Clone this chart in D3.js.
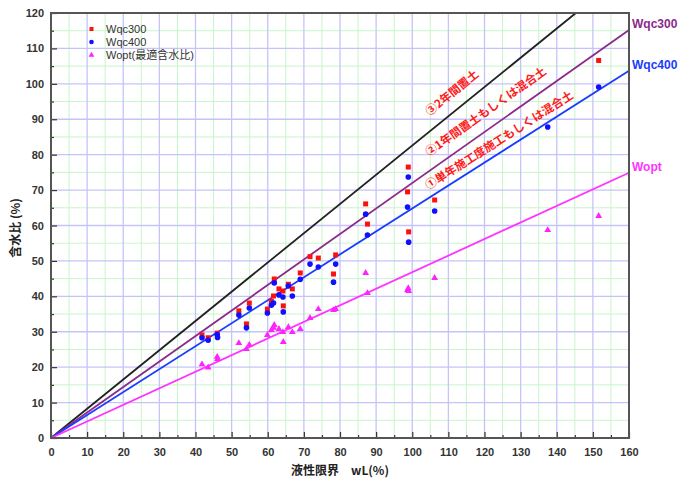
<!DOCTYPE html>
<html>
<head>
<meta charset="utf-8">
<script src="https://cdn.jsdelivr.net/npm/d3@7"></script>
<style>
  body { margin: 0; background: #fff; }
  svg { display: block; }
</style>
</head>
<body>
<script>
// sample data
const wL     = [41.8, 43.5, 46.0, 46.1, 52.0, 54.1, 54.9, 59.9, 61.0, 61.6, 61.8, 63.1, 64.2, 64.3, 65.7, 66.8, 69.0, 71.7, 74.0, 78.2, 78.8, 87.1, 87.6, 98.7, 98.9, 99.0, 106.2, 137.5, 151.6];
const wqc300 = [29.1, 28.3, 29.6, 28.8, 35.9, 32.2, 38.1, 36.4, 38.6, 40.1, 44.9, 42.1, 41.5, 37.3, 43.4, 42.1, 46.6, 51.2, 50.8, 46.3, 51.7, 66.1, 60.4, 69.5, 76.5, 58.2, 67.2, null, 106.6];
const wqc400 = [28.3, 27.6, 29.2, 28.4, 34.7, 31.1, 36.7, 35.3, 37.5, 38.1, 43.8, 40.4, 39.8, 35.6, 42.9, 40.1, 44.8, 49.1, 48.3, 44.0, 49.1, 63.2, 57.3, 65.2, 73.7, 55.3, 64.1, 87.8, 99.1];
const wopt   = [20.8, 19.9, 22.9, 22.3, 26.8, 25.1, 26.3, 29.1, 30.5, 31.1, 31.9, 30.8, 29.9, 27.1, 31.3, 29.9, 30.8, 33.9, 36.4, 36.1, 36.4, 46.6, 40.9, 41.8, 42.3, 41.5, 45.2, 58.7, 62.7];

// reference lines, value at wL = 160
const lineNames = ["Wqc300", "Wqc400", "Wopt"];
const lineEnd   = [115.2, 103.7, 74.9];
// black line (2 years) ends on top edge
const blackEnd = [145.3, 120];

const legendNames = ["Wqc300", "Wqc400", "Wopt(最適含水比)"];
const notes = ["③2年間置土", "②1年間置土もしくは混合土", "①単年施工度施工もしくは混合土"];

const xTicks = d3.range(0, 161, 10);
const yTicks = d3.range(0, 121, 10);

const app = {
  init: () => {
    app.svg = d3.select("body").append("svg")
      .attr("width", 686)
      .attr("height", 479);
    app.x = d3.scaleLinear().domain([0, 160]).range([51, 629]);
    app.y = d3.scaleLinear().domain([0, 120]).range([438, 13]);
    app.grid();
    app.lines();
    app.points();
    app.axes();
    app.labels();
  },

  grid: () => {
    const { svg, x, y } = app;
    const g = svg.append("g");
    // minor = green, major = lavender
    g.selectAll(".vmin").data(d3.range(5, 160, 10)).enter().append("line")
      .attr("x1", d => x(d)).attr("x2", d => x(d))
      .attr("y1", y(0)).attr("y2", y(120))
      .style("stroke", "#c8f5c8").style("stroke-width", 1);
    g.selectAll(".hmin").data(d3.range(5, 120, 10)).enter().append("line")
      .attr("y1", d => y(d)).attr("y2", d => y(d))
      .attr("x1", x(0)).attr("x2", x(160))
      .style("stroke", "#c8f5c8").style("stroke-width", 1);
    g.selectAll(".vmaj").data(d3.range(10, 160, 10)).enter().append("line")
      .attr("x1", d => x(d)).attr("x2", d => x(d))
      .attr("y1", y(0)).attr("y2", y(120))
      .style("stroke", "#c4c4fa").style("stroke-width", 1.3);
    g.selectAll(".hmaj").data(d3.range(10, 120, 10)).enter().append("line")
      .attr("y1", d => y(d)).attr("y2", d => y(d))
      .attr("x1", x(0)).attr("x2", x(160))
      .style("stroke", "#c4c4fa").style("stroke-width", 1.3);
  },

  lines: () => {
    const { svg, x, y } = app;
    const line = d3.line().x(d => x(d[0])).y(d => y(d[1]));
    const colors = ["#8b2a8b", "#1a3cff", "#ff33ff"];

    svg.append("path")
      .attr("d", line([[0, 0], blackEnd]))
      .style("fill", "none").style("stroke", "#222").style("stroke-width", 1.8);

    lineEnd.forEach((v, i) => {
      svg.append("path")
        .attr("d", line([[0, 0], [160, v]]))
        .style("fill", "none").style("stroke", colors[i]).style("stroke-width", 1.8);
      svg.append("text")
        .attr("x", x(160) + 3)
        .attr("y", y(v) - 2)
        .text(lineNames[i])
        .style("font-family", "'Liberation Sans', Arial, sans-serif")
        .style("font-size", "12px")
        .style("font-weight", "bold")
        .style("fill", colors[i]);
    });

    // rotated notes along each line
    const slopes = [blackEnd[1] / blackEnd[0], lineEnd[0] / 160, lineEnd[1] / 160];
    const at = [113.8, 122.9, 125.7];
    const off = [16, 16, 11];
    notes.forEach((t, i) => {
      const dx = x(1) - x(0);
      const dy = y(slopes[i]) - y(0);
      const th = Math.atan2(dy, dx);
      const px = x(at[i]) + off[i] * Math.sin(th);
      const py = y(slopes[i] * at[i]) - off[i] * Math.cos(th);
      svg.append("text")
        .attr("transform", `translate(${px},${py}) rotate(${th * 180 / Math.PI})`)
        .attr("text-anchor", "middle")
        .attr("dy", "0.35em")
        .text(t)
        .style("font-family", "'Noto Sans CJK JP', sans-serif")
        .style("font-size", "11.5px")
        .style("font-weight", "bold")
        .style("fill", "#ff1a1a");
    });
  },

  points: () => {
    const { svg, x, y } = app;
    const idx = d3.range(wL.length);

    svg.selectAll(".tri").data(idx).enter().append("path")
      .attr("d", d3.symbol().type(d3.symbolTriangle).size(20))
      .attr("transform", i => `translate(${x(wL[i])},${y(wopt[i])})`)
      .style("fill", "#ff22ff");

    svg.selectAll(".sq").data(idx.filter(i => wqc300[i] != null)).enter().append("rect")
      .attr("x", i => x(wL[i]) - 2.5)
      .attr("y", i => y(wqc300[i]) - 2.5)
      .attr("width", 5)
      .attr("height", 5)
      .style("fill", "#ff1010");

    svg.selectAll(".dot").data(idx).enter().append("circle")
      .attr("cx", i => x(wL[i]))
      .attr("cy", i => y(wqc400[i]))
      .attr("r", 2.8)
      .style("fill", "#1010ff");
  },

  axes: () => {
    const { svg, x, y } = app;
    const font = "'Liberation Sans', Arial, sans-serif";

    svg.append("g").attr("transform", "translate(0,438)")
      .call(d3.axisBottom(x).tickValues(xTicks).tickSize(-6).tickPadding(10).tickFormat(d3.format("d")));
    svg.append("g").attr("transform", "translate(0,438)")
      .call(d3.axisBottom(x).tickValues(d3.range(5, 160, 10)).tickSize(-3).tickFormat(""));
    svg.append("g").attr("transform", "translate(51,0)")
      .call(d3.axisLeft(y).tickValues(yTicks).tickSize(-6).tickPadding(7).tickFormat(d3.format("d")));
    svg.append("g").attr("transform", "translate(51,0)")
      .call(d3.axisLeft(y).tickValues(d3.range(5, 120, 10)).tickSize(-3).tickFormat(""));

    svg.selectAll(".domain").remove();
    svg.selectAll(".tick line").style("stroke", "#333").style("stroke-width", 1.2);
    svg.selectAll(".tick text")
      .style("font-family", font)
      .style("font-size", "11px")
      .style("font-weight", "bold")
      .style("fill", "#333");

    // frame
    svg.append("rect")
      .attr("x", x(0)).attr("y", y(120))
      .attr("width", x(160) - x(0)).attr("height", y(0) - y(120))
      .style("fill", "none").style("stroke", "#555").style("stroke-width", 2);
  },

  labels: () => {
    const { svg } = app;
    const cjk = "'Noto Sans CJK JP', sans-serif";

    svg.append("text")
      .attr("x", 340).attr("y", 475)
      .attr("text-anchor", "middle")
      .text("液性限界　wL(%)")
      .style("font-family", cjk).style("font-size", "12px")
      .style("font-weight", "bold").style("fill", "#222");

    svg.append("text")
      .attr("transform", "translate(20,228) rotate(-90)")
      .attr("text-anchor", "middle")
      .text("含水比 (%)")
      .style("font-family", cjk).style("font-size", "12px")
      .style("font-weight", "bold").style("fill", "#222");

    // legend
    const lg = svg.append("g");
    const ly = [29, 42, 55];
    lg.append("rect").attr("x", 89.5).attr("y", ly[0] - 2).attr("width", 4).attr("height", 4).style("fill", "#ff1010");
    lg.append("circle").attr("cx", 91.5).attr("cy", ly[1]).attr("r", 2.3).style("fill", "#1010ff");
    lg.append("path").attr("d", d3.symbol().type(d3.symbolTriangle).size(14))
      .attr("transform", `translate(91.5,${ly[2]})`).style("fill", "#ff22ff");
    lg.selectAll("text").data(legendNames).enter().append("text")
      .attr("x", 106)
      .attr("y", (d, i) => ly[i])
      .attr("dy", "0.35em")
      .text(d => d)
      .style("font-family", "'Liberation Sans', 'Noto Sans CJK JP', sans-serif")
      .style("font-size", "11px")
      .style("fill", "#333");
  }
};

app.init();
</script>
</body>
</html>
